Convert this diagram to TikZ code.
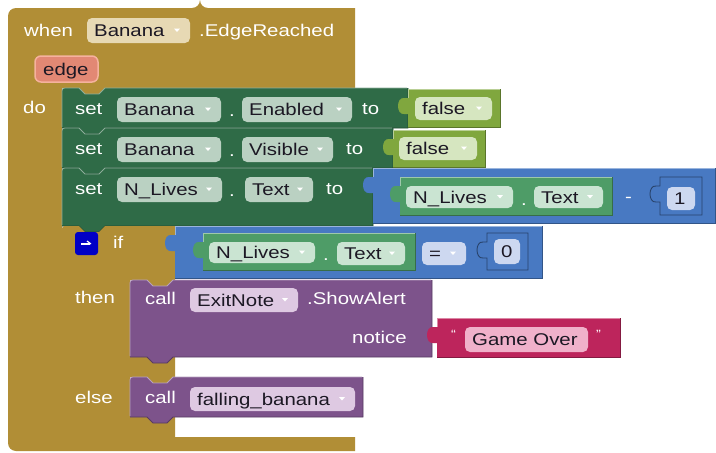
\documentclass[tikz,border=0pt]{standalone}
\usepackage{fontspec}
\setmainfont{Liberation Sans}[FakeStretch=1.2]
\definecolor{gold}{RGB}{177,142,54}
\definecolor{goldpill}{RGB}{231,217,180}
\definecolor{salmon}{RGB}{226,136,116}
\definecolor{salmonrim}{RGB}{245,178,158}
\definecolor{setgreen}{RGB}{47,107,71}
\definecolor{setpill}{RGB}{186,209,194}
\definecolor{boolgreen}{RGB}{128,167,62}
\definecolor{boolpill}{RGB}{214,230,192}
\definecolor{mathblue}{RGB}{72,121,194}
\definecolor{numpill}{RGB}{205,216,240}
\definecolor{getgreen}{RGB}{78,156,103}
\definecolor{getpill}{RGB}{202,228,210}
\definecolor{procpurple}{RGB}{125,83,139}
\definecolor{procpill}{RGB}{222,201,226}
\definecolor{strred}{RGB}{189,37,92}
\definecolor{strpill}{RGB}{240,177,202}
\definecolor{btnblue}{RGB}{0,0,198}
\definecolor{ink}{RGB}{28,24,36}
\tikzset{
  lbl/.style={font=\fontsize{17}{20}\selectfont, text height=12pt, text depth=0pt,
    inner sep=0pt, anchor=west, text=white},
  pilltxt/.style={lbl, text=ink},
}
% statement block: notch on top, tab below, rounded top-left corner
\newcommand\stmtblk[5]{%
  \fill[#5] ({#1+17},#2) -- ({#1+23},{#2+6}) -- ({#1+37},{#2+6}) -- ({#1+43},#2) -- (#3,#2)
    -- (#3,#4) -- ({#1+43},#4) -- ({#1+37},{#4+6}) -- ({#1+23},{#4+6}) -- ({#1+17},#4)
    -- (#1,#4) -- (#1,{#2+6}) .. controls (#1,#2) .. ({#1+6},#2) -- cycle;
  \draw[#5!55!white, line width=0.8pt] (#1,{#4-1}) -- (#1,{#2+6}) .. controls (#1,#2) .. ({#1+6},#2)
    -- ({#1+17},#2) -- ({#1+23},{#2+6}) -- ({#1+37},{#2+6}) -- ({#1+43},#2) -- ({#3-1},#2);
  \draw[#5!70!black, line width=0.8pt] (#3,#2) -- (#3,#4) -- ({#1+43},#4) -- ({#1+37},{#4+6})
    -- ({#1+23},{#4+6}) -- ({#1+17},#4) -- (#1,#4);
}
% outline of a value block with its tab
\newcommand\valpath[4]{(#1,#2) -- (#3,#2) -- (#3,#4) -- (#1,#4) -- (#1,{#2+25}) -- ({#1-4},{#2+25})
    .. controls ({#1-12},{#2+26}) and ({#1-12},{#2+8}) .. ({#1-4},{#2+9}) -- (#1,{#2+9}) -- cycle}
% value block: puzzle tab on the left
\newcommand\valblk[5]{%
  \fill[#5] \valpath{#1}{#2}{#3}{#4};
  \draw[#5!55!white, line width=0.8pt] (#1,{#2+9}) -- (#1,#2) -- (#3,#2);
  \draw[#5!70!black, line width=0.8pt] (#3,#2) -- (#3,#4) -- (#1,#4);
}
% number block: same, framed all round
\newcommand\numblk[4]{%
  \draw[mathblue!55!black, fill=mathblue, line width=0.9pt] \valpath{#1}{#2}{#3}{#4};
}
% dropdown field
\newcommand\ddpill[7]{%
  \fill[#6, rounded corners=5pt] (#2,#3) rectangle (#4,#5);
  \node[pilltxt] (#1) at ({#2+7},{(#3+#5)/2}) {#7};
  \fill[white] ({#4-16},{(#3+#5)/2-2}) -- ({#4-10},{(#3+#5)/2-2}) -- ({#4-13},{(#3+#5)/2+1.5}) -- cycle;
}
% plain field
\newcommand\plpill[7]{%
  \fill[#6, rounded corners=5pt] (#2,#3) rectangle (#4,#5);
  \node[pilltxt] (#1) at ({#2+7},{(#3+#5)/2}) {#7};
}
\begin{document}
\begin{tikzpicture}[x=1pt, y=-1pt]
\useasboundingbox (0,0) rectangle (716,453);
\fill[white] (0,0) rectangle (716,453);

% ---- event block ----
\fill[gold] (200,8) -- (355,8) -- (355,88) -- (105,88) -- (99,94) -- (85,94) -- (79,88) -- (62,88)
  -- (62,437) -- (355,437) -- (355,451) -- (20,451) [rounded corners=8pt] -- (8,451) -- (8,8) -- (200,8) -- cycle;
\node[lbl] (when) at (24,30) {when};
\ddpill{evcomp}{87}{18}{190}{43}{goldpill}{Banana}
\node[lbl] (evname) at (199,30) {.EdgeReached};
\draw[salmonrim, fill=salmon, line width=1.5pt, rounded corners=6pt] (35,56) rectangle (98,82);
\node[pilltxt] (edge) at (43,69) {edge};
\node[lbl] (do) at (23,107) {do};

% ---- set Banana.Enabled ----
\stmtblk{62}{88}{408}{128}{setgreen}
\node[lbl] (set1) at (75,108) {set};
\ddpill{s1comp}{117}{97}{221}{122}{setpill}{Banana}
\node[lbl] (s1dot) at (229,110) {.};
\ddpill{s1prop}{242}{97}{352}{122}{setpill}{Enabled}
\node[lbl] (s1to) at (362,108) {to};
\valblk{408}{89}{500}{127}{boolgreen}
\ddpill{s1val}{415}{97}{492}{120}{boolpill}{false}

% ---- set Banana.Visible ----
\stmtblk{62}{128}{393}{168}{setgreen}
\node[lbl] (set2) at (75,148) {set};
\ddpill{s2comp}{117}{137}{221}{162}{setpill}{Banana}
\node[lbl] (s2dot) at (229,150) {.};
\ddpill{s2prop}{242}{137}{333}{162}{setpill}{Visible}
\node[lbl] (s2to) at (346,148) {to};
\valblk{393}{130}{485}{167}{boolgreen}
\ddpill{s2val}{399}{137}{477}{160}{boolpill}{false}

% ---- set N_Lives.Text ----
\stmtblk{62}{168}{373}{226}{setgreen}
\node[lbl] (set3) at (75,188) {set};
\ddpill{s3comp}{117}{177}{222}{202}{setpill}{N\_Lives}
\node[lbl] (s3dot) at (229,190) {.};
\ddpill{s3prop}{245}{177}{313}{202}{setpill}{Text}
\node[lbl] (s3to) at (326,188) {to};
\valblk{373}{168}{715}{223}{mathblue}
\valblk{400}{177}{612}{215}{getgreen}
\ddpill{g1comp}{406}{186}{513}{208}{getpill}{N\_Lives}
\node[lbl] (g1dot) at (521,199) {.};
\ddpill{g1prop}{534}{186}{603}{208}{getpill}{Text}
\node[lbl] (minus) at (625,196) {-};
\numblk{660}{177}{702}{215}
\plpill{one}{667}{187}{695}{210}{numpill}{1}

% ---- if / then / else ----
\fill[gold] (62,232) .. controls (62,226) .. (68,226) -- (79,226) -- (85,232) -- (99,232) -- (105,226)
  -- (175,226) -- (175,280) -- (173,280) -- (167,286) -- (153,286) -- (147,280) -- (130,280)
  -- (130,357) -- (175,357) -- (175,377) -- (173,377) -- (167,383) -- (153,383) -- (147,377)
  -- (130,377) -- (130,417) -- (175,417) -- (175,437) -- (105,437) -- (99,443) -- (85,443)
  -- (79,437) -- (62,437) -- cycle;
\fill[btnblue, rounded corners=3pt] (75,232) rectangle (98,255);
\draw[white, line width=2pt] (81,244) -- (90,244);
\draw[white, line width=1.2pt] (87,241) -- (91,244);
\node[lbl] (if) at (113,242) {if};
\valblk{175}{226}{542}{278}{mathblue}
\valblk{203}{233}{415}{270}{getgreen}
\ddpill{g2comp}{209}{242}{315}{263}{getpill}{N\_Lives}
\node[lbl] (g2dot) at (323,254) {.};
\ddpill{g2prop}{337}{242}{405}{265}{getpill}{Text}
\ddpill{cmpop}{422}{242}{466}{265}{numpill}{=}
\numblk{487}{233}{528}{270}
\plpill{zero}{494}{239}{520}{264}{numpill}{0}

\node[lbl] (then) at (75,297) {then};
\stmtblk{130}{280}{432}{357}{procpurple}
\node[lbl] (call1) at (145,298) {call};
\ddpill{c1comp}{190}{288}{298}{312}{procpill}{ExitNote}
\node[lbl] (c1meth) at (307,298) {.ShowAlert};
\node[lbl] (notice) at (352,337) {notice};
\valblk{437}{318}{620}{357}{strred}
\node[lbl, font=\fontsize{12}{12}\selectfont] (qopen) at (451,332) {“};
\plpill{gameover}{465}{327}{588}{352}{strpill}{Game Over}
\node[lbl, font=\fontsize{12}{12}\selectfont] (qclose) at (596,332) {”};

\node[lbl] (else) at (75,397) {else};
\stmtblk{130}{377}{363}{417}{procpurple}
\node[lbl] (call2) at (145,397) {call};
\ddpill{c2proc}{190}{387}{355}{411}{procpill}{falling\_banana}
\end{tikzpicture}
\end{document}
